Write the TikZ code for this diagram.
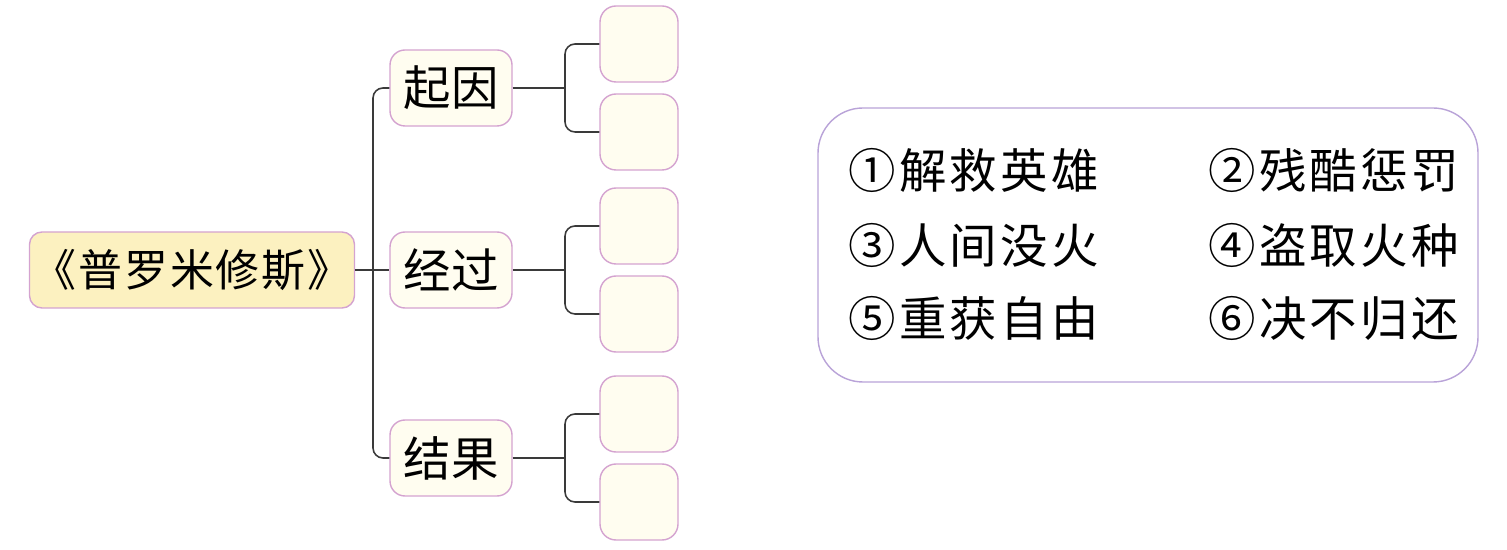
\documentclass[tikz,border=0pt]{standalone}
\usepackage{fontspec}
\setmainfont{Noto Sans CJK SC}
\usepackage[usenames,dvipsnames]{xcolor}
\usepackage{tikz}
\usetikzlibrary{arrows.meta}

\definecolor{boxline}{HTML}{D4A3D0}
\definecolor{titlefill}{HTML}{FCF1C0}
\definecolor{boxfill}{HTML}{FFFDF0}
\definecolor{panelline}{HTML}{B9A3D8}
\definecolor{linkgray}{HTML}{3A3A3A}

\begin{document}
\begin{tikzpicture}[
        topicbox/.style={rounded corners=0.3cm, draw=boxline, thick, fill=boxfill, minimum width=2.44cm, minimum height=1.52cm, inner sep=0pt, font=\fontsize{27}{30}\selectfont},
        leafbox/.style={rounded corners=0.32cm, draw=boxline, thick, fill=boxfill, minimum width=1.56cm, minimum height=1.52cm, inner sep=0pt},
        link/.style={linkgray, line width=0.9pt, rounded corners=0.2cm},
        choice/.style={anchor=west, inner sep=0pt, font=\fontsize{27}{30}\selectfont\addfontfeature{LetterSpace=7}}
    ]
        \useasboundingbox (0,0) rectangle (30.14,11);

        \node (title) at (3.84,5.6)[rounded corners=0.25cm, draw=boxline, thick, fill=titlefill, minimum width=6.5cm, minimum height=1.52cm, inner sep=0pt, font=\fontsize{25}{30}\selectfont\addfontfeature{LetterSpace=4}] {《普罗米修斯》};
        \coordinate (spine) at (7.46,5.6);

        \foreach \n/\y/\t in {cause/9.24/起因, course/5.6/经过, result/1.84/结果} {
            \node (\n) at (9.02,\y)[topicbox] {\t};
            \node (\n1) at (12.78,\y+0.88)[leafbox] {};
            \node (\n2) at (12.78,\y-0.88)[leafbox] {};
            \coordinate (\n fork) at (11.3,\y);

            \draw[link] (\n) -- (\n fork);
            \draw[link] (\n1.west) -| (\n fork) |- (\n2.west);
        }

        \draw[link] (title) -- (course);
        \draw[link] (cause.west) -| (spine) |- (result.west);

        % word bank
        \node (panel) at (22.96,6.1)[rounded corners=0.9cm, draw=panelline, thick, fill=white, minimum width=13.2cm, minimum height=5.48cm] {};

        \node (c1) at (16.96,7.6)[choice] {①解救英雄};
        \node (c2) at (24.16,7.6)[choice] {②残酷惩罚};
        \node (c3) at (16.96,6.1)[choice] {③人间没火};
        \node (c4) at (24.16,6.1)[choice] {④盗取火种};
        \node (c5) at (16.96,4.64)[choice] {⑤重获自由};
        \node (c6) at (24.16,4.64)[choice] {⑥决不归还};
    \end{tikzpicture}
\end{document}
